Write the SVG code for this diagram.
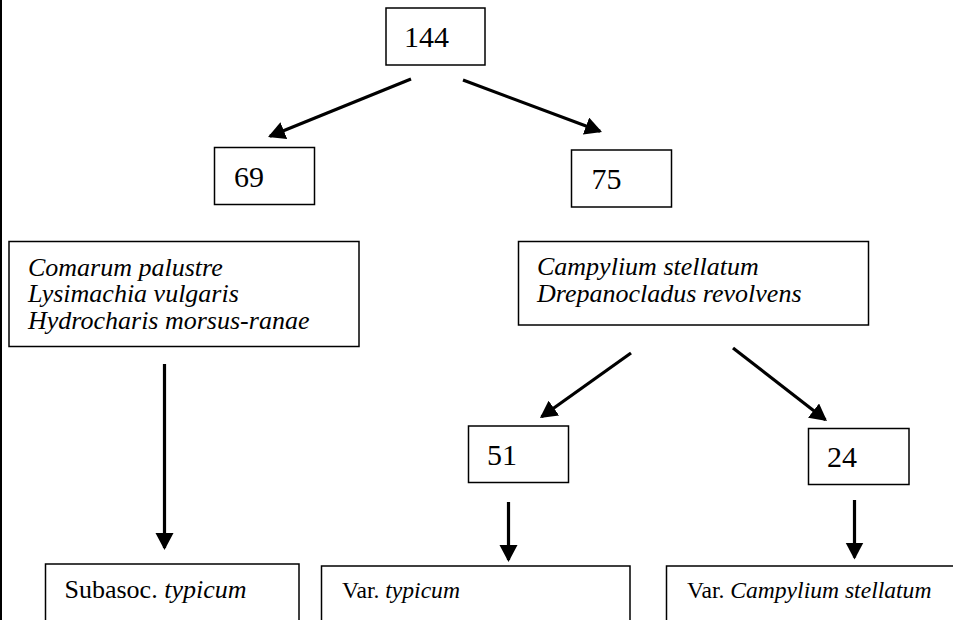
<svg xmlns="http://www.w3.org/2000/svg" width="953" height="620" viewBox="0 0 953 620">
<style>
.box{fill:#fff;stroke:#000;stroke-width:1.5}
text{font-family:"Liberation Serif",Tinos,"Times New Roman",Times,serif;fill:#000}
.num{font-size:30px}
.txt{font-size:26px}
.sm{font-size:23.6px}
.it{font-style:italic}
.arr{stroke:#000;stroke-width:3.2;fill:none;marker-end:url(#ah)}
</style>
<defs>
<marker id="ah" markerUnits="userSpaceOnUse" markerWidth="19" markerHeight="19" refX="15" refY="9" orient="auto">
<path d="M0,0 L17,9 L0,18 z" fill="#000"/>
</marker>
</defs>
<rect x="0" y="0" width="953" height="620" fill="#fff"/>
<line x1="1" y1="0" x2="1" y2="620" stroke="#000" stroke-width="2"/>
<g id="n144"><rect class="box" x="386" y="8" width="99" height="57"/><text class="num" x="404" y="47">144</text></g>
<g id="n69"><rect class="box" x="214.5" y="147.5" width="100" height="57"/><text class="num" x="234" y="186.5">69</text></g>
<g id="n75"><rect class="box" x="571.5" y="150" width="100" height="57"/><text class="num" x="591.5" y="189">75</text></g>
<g id="comarum"><rect class="box" x="9" y="241.5" width="350" height="105"/>
<text class="txt it" x="28" y="275.5">Comarum palustre</text>
<text class="txt it" x="28" y="302">Lysimachia vulgaris</text>
<text class="txt it" x="28" y="328.5">Hydrocharis morsus-ranae</text></g>
<g id="campylium"><rect class="box" x="518.5" y="241.5" width="350" height="83.5"/>
<text class="txt it" x="537" y="275">Campylium stellatum</text>
<text class="txt it" x="537" y="301.5">Drepanocladus revolvens</text></g>
<g id="n51"><rect class="box" x="468.5" y="426" width="100" height="56.5"/><text class="num" x="487" y="465">51</text></g>
<g id="n24"><rect class="box" x="808.5" y="428.5" width="100.5" height="56"/><text class="num" x="827" y="466.5">24</text></g>
<g id="subasoc"><rect class="box" x="45.5" y="564" width="253.5" height="70"/><text class="txt" x="64.5" y="598">Subasoc. <tspan class="it">typicum</tspan></text></g>
<g id="vartypicum"><rect class="box" x="321.5" y="566" width="308.5" height="70"/><text class="sm" x="342" y="597.5">Var. <tspan class="it">typicum</tspan></text></g>
<g id="varcampylium"><rect class="box" x="666.5" y="566" width="300" height="70"/><text class="sm" x="687" y="597.5">Var. <tspan class="it">Campylium stellatum</tspan></text></g>
<g id="connectors">
<line class="arr" x1="411" y1="79" x2="269.9" y2="136.2"/>
<line class="arr" x1="463" y1="80" x2="600.1" y2="131.3"/>
<line class="arr" x1="631" y1="353" x2="541.6" y2="416.8"/>
<line class="arr" x1="733" y1="348" x2="825.4" y2="419.8"/>
<line class="arr" x1="164.5" y1="364" x2="164.5" y2="548"/>
<line class="arr" x1="508.5" y1="502" x2="508.5" y2="560"/>
<line class="arr" x1="854.5" y1="500" x2="854.5" y2="557.5"/>
</g>
</svg>
